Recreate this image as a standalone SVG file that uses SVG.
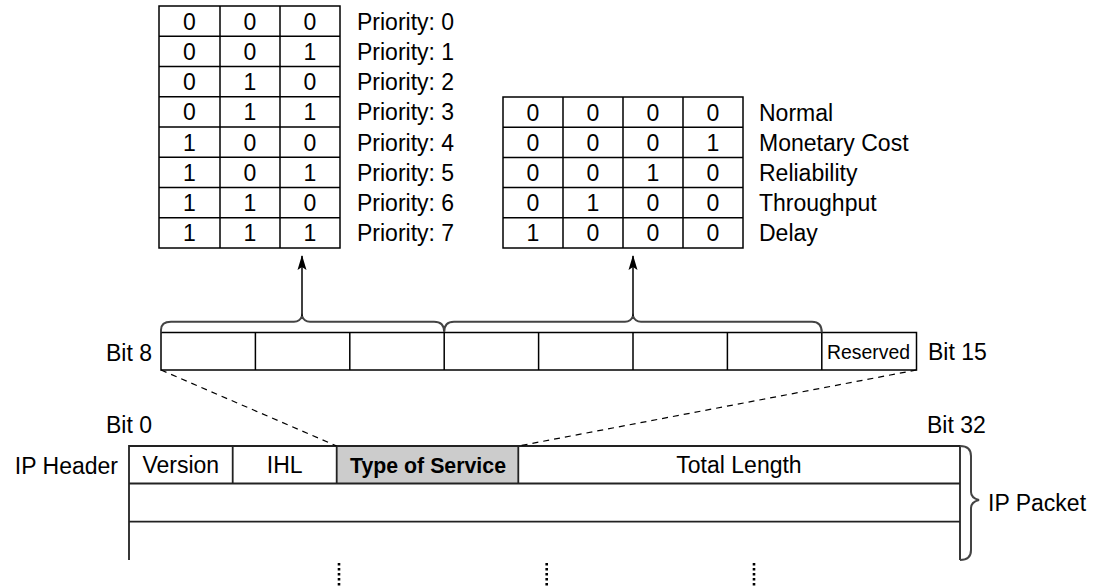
<svg xmlns="http://www.w3.org/2000/svg" width="1100" height="588" viewBox="0 0 1100 588">
<style>
text{font-family:"Liberation Sans",Arial,Helvetica,sans-serif;font-size:23px;fill:#000}
.c{text-anchor:middle}
.e{text-anchor:end}
.cell{fill:#fff;stroke:#000;stroke-width:1.5}
.ln{stroke:#000;stroke-width:1.5;fill:none}
.hdr{stroke:#222;stroke-width:1.8;fill:none}
.brace{stroke:#444;stroke-width:2;fill:none}
.dash{stroke:#000;stroke-width:1.2;stroke-dasharray:6 5;fill:none}
.dots{stroke:#000;stroke-width:2.6;stroke-dasharray:2.4 2.6;fill:none}
.arrow{stroke:#000;stroke-width:1.5;fill:none;marker-end:url(#ah)}
</style>
<defs>
<marker id="ah" markerWidth="10" markerHeight="16" refX="5" refY="1" orient="0" markerUnits="userSpaceOnUse" viewBox="0 0 10 16">
<path d="M5,0 L9.5,15 L5,12 L0.5,15 Z" fill="#000"/>
</marker>
</defs>

<g id="priority-table">
<rect class="cell" x="159" y="6" width="181" height="242"/>
<path class="ln" d="M220,6V248M280,6V248M159,36.25H340M159,66.5H340M159,96.75H340M159,127H340M159,157.25H340M159,187.5H340M159,217.75H340"/>
<g class="c">
<text x="189.5" y="29.6">0</text><text x="250" y="29.6">0</text><text x="310" y="29.6">0</text>
<text x="189.5" y="59.9">0</text><text x="250" y="59.9">0</text><text x="310" y="59.9">1</text>
<text x="189.5" y="90.1">0</text><text x="250" y="90.1">1</text><text x="310" y="90.1">0</text>
<text x="189.5" y="120.4">0</text><text x="250" y="120.4">1</text><text x="310" y="120.4">1</text>
<text x="189.5" y="150.6">1</text><text x="250" y="150.6">0</text><text x="310" y="150.6">0</text>
<text x="189.5" y="180.9">1</text><text x="250" y="180.9">0</text><text x="310" y="180.9">1</text>
<text x="189.5" y="211.1">1</text><text x="250" y="211.1">1</text><text x="310" y="211.1">0</text>
<text x="189.5" y="241.4">1</text><text x="250" y="241.4">1</text><text x="310" y="241.4">1</text>
</g>
<text x="357" y="29.6">Priority: 0</text>
<text x="357" y="59.9">Priority: 1</text>
<text x="357" y="90.1">Priority: 2</text>
<text x="357" y="120.4">Priority: 3</text>
<text x="357" y="150.6">Priority: 4</text>
<text x="357" y="180.9">Priority: 5</text>
<text x="357" y="211.1">Priority: 6</text>
<text x="357" y="241.4">Priority: 7</text>
</g>

<g id="service-table">
<rect class="cell" x="503" y="97" width="240" height="151"/>
<path class="ln" d="M563,97V248M623,97V248M683,97V248M503,127.2H743M503,157.4H743M503,187.6H743M503,217.8H743"/>
<g class="c">
<text x="533" y="120.6">0</text><text x="593" y="120.6">0</text><text x="653" y="120.6">0</text><text x="713" y="120.6">0</text>
<text x="533" y="150.8">0</text><text x="593" y="150.8">0</text><text x="653" y="150.8">0</text><text x="713" y="150.8">1</text>
<text x="533" y="181">0</text><text x="593" y="181">0</text><text x="653" y="181">1</text><text x="713" y="181">0</text>
<text x="533" y="211.2">0</text><text x="593" y="211.2">1</text><text x="653" y="211.2">0</text><text x="713" y="211.2">0</text>
<text x="533" y="241.4">1</text><text x="593" y="241.4">0</text><text x="653" y="241.4">0</text><text x="713" y="241.4">0</text>
</g>
<text x="759" y="120.6">Normal</text>
<text x="759" y="150.8">Monetary Cost</text>
<text x="759" y="181">Reliability</text>
<text x="759" y="211.2">Throughput</text>
<text x="759" y="241.4">Delay</text>
</g>

<g id="tos-bits">
<rect class="cell" x="161" y="332.5" width="755.5" height="37.5"/>
<path class="ln" d="M255.4,332.5V370M349.8,332.5V370M444.2,332.5V370M538.6,332.5V370M633,332.5V370M727.4,332.5V370M821.8,332.5V370"/>
<text x="827" y="359" style="font-size:21px" textLength="83" lengthAdjust="spacingAndGlyphs">Reserved</text>
<text x="152" y="361" class="e">Bit 8</text>
<text x="928" y="360">Bit 15</text>
</g>

<g id="ip-header">
<rect x="336.7" y="446" width="181.6" height="37.5" fill="#cccccc"/>
<path class="hdr" d="M129,560V446H960V560M129,483.5H960M129,521.7H960M232.7,446V483.5M336.7,446V483.5M518.3,446V483.5"/>
<text x="180.8" y="473" class="c">Version</text>
<text x="284.7" y="473" class="c">IHL</text>
<text x="350" y="473" style="font-weight:bold;font-size:22px" textLength="156" lengthAdjust="spacingAndGlyphs">Type of Service</text>
<text x="739" y="473" class="c">Total Length</text>
<text x="118" y="474" class="e">IP Header</text>
<text x="106" y="433">Bit 0</text>
<text x="927" y="433">Bit 32</text>
<text x="988" y="511">IP Packet</text>
</g>

<g id="connectors">
<path class="brace" d="M161,332.5V330Q161,321.7 171,321.7H294Q300,321.7 302,316Q304,321.7 310,321.7H434Q444.2,321.7 444.2,332Q444.2,321.7 454,321.7H625Q631,321.7 633,316Q635,321.7 641,321.7H812Q821.8,321.7 821.8,332.5"/>
<line class="arrow" x1="302" y1="316" x2="302" y2="256"/>
<line class="arrow" x1="633" y1="316" x2="633" y2="256"/>
<line class="dash" x1="161" y1="370" x2="336.7" y2="446"/>
<line class="dash" x1="916.5" y1="370" x2="518.3" y2="446"/>
<path class="brace" d="M960,446Q971,446 971,456V492Q971,498 979,500Q971,502 971,508V550Q971,560 960,560"/>
<path class="dots" d="M339,563V586M546.7,563V586M754,563V586"/>
</g>
</svg>
